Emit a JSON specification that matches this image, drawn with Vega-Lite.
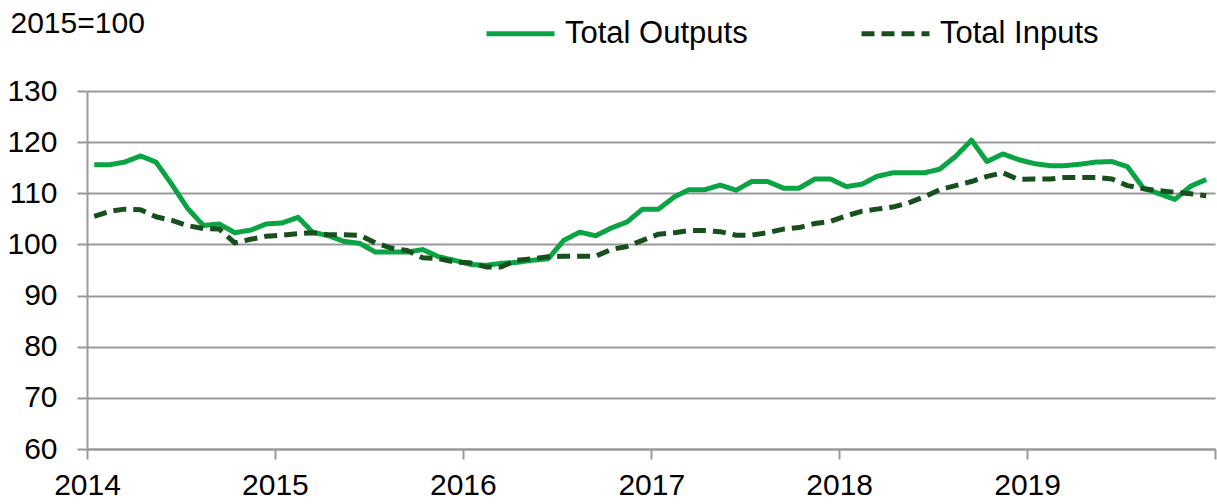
{
  "$schema": "https://vega.github.io/schema/vega-lite/v6.json",
  "autosize": {"type": "none"},
  "padding": {"left": 87, "top": 91, "right": 2, "bottom": 55},
  "width": 1128,
  "height": 358,
  "background": "white",
  "config": {
    "view": {"stroke": null},
    "font": "Liberation Sans"
  },
  "data": {
    "values": [
      {"month": "2014-01-15", "Total Outputs": 115.6, "Total Inputs": 105.5},
      {"month": "2014-02-15", "Total Outputs": 115.6, "Total Inputs": 106.5},
      {"month": "2014-03-15", "Total Outputs": 116.1, "Total Inputs": 106.9},
      {"month": "2014-04-15", "Total Outputs": 117.3, "Total Inputs": 106.8},
      {"month": "2014-05-15", "Total Outputs": 116.1, "Total Inputs": 105.4},
      {"month": "2014-06-15", "Total Outputs": 111.7, "Total Inputs": 104.7},
      {"month": "2014-07-15", "Total Outputs": 107.1, "Total Inputs": 103.7},
      {"month": "2014-08-15", "Total Outputs": 103.7, "Total Inputs": 103.1},
      {"month": "2014-09-15", "Total Outputs": 104.0, "Total Inputs": 103.0},
      {"month": "2014-10-15", "Total Outputs": 102.3, "Total Inputs": 100.3},
      {"month": "2014-11-15", "Total Outputs": 102.8, "Total Inputs": 101.0},
      {"month": "2014-12-15", "Total Outputs": 104.0, "Total Inputs": 101.6},
      {"month": "2015-01-15", "Total Outputs": 104.2, "Total Inputs": 101.8},
      {"month": "2015-02-15", "Total Outputs": 105.3, "Total Inputs": 102.1},
      {"month": "2015-03-15", "Total Outputs": 102.4, "Total Inputs": 102.3},
      {"month": "2015-04-15", "Total Outputs": 101.7, "Total Inputs": 101.9},
      {"month": "2015-05-15", "Total Outputs": 100.6, "Total Inputs": 101.9},
      {"month": "2015-06-15", "Total Outputs": 100.2, "Total Inputs": 101.8},
      {"month": "2015-07-15", "Total Outputs": 98.5, "Total Inputs": 100.3},
      {"month": "2015-08-15", "Total Outputs": 98.5, "Total Inputs": 99.3},
      {"month": "2015-09-15", "Total Outputs": 98.5, "Total Inputs": 98.8},
      {"month": "2015-10-15", "Total Outputs": 99.0, "Total Inputs": 97.4},
      {"month": "2015-11-15", "Total Outputs": 97.6, "Total Inputs": 97.2},
      {"month": "2015-12-15", "Total Outputs": 96.9, "Total Inputs": 96.6},
      {"month": "2016-01-15", "Total Outputs": 96.1, "Total Inputs": 96.4},
      {"month": "2016-02-15", "Total Outputs": 95.9, "Total Inputs": 95.6},
      {"month": "2016-03-15", "Total Outputs": 96.3, "Total Inputs": 95.6},
      {"month": "2016-04-15", "Total Outputs": 96.5, "Total Inputs": 96.9},
      {"month": "2016-05-15", "Total Outputs": 96.9, "Total Inputs": 97.2},
      {"month": "2016-06-15", "Total Outputs": 97.2, "Total Inputs": 97.6},
      {"month": "2016-07-15", "Total Outputs": 100.8, "Total Inputs": 97.7},
      {"month": "2016-08-15", "Total Outputs": 102.4, "Total Inputs": 97.7},
      {"month": "2016-09-15", "Total Outputs": 101.7, "Total Inputs": 97.7},
      {"month": "2016-10-15", "Total Outputs": 103.2, "Total Inputs": 99.0},
      {"month": "2016-11-15", "Total Outputs": 104.4, "Total Inputs": 99.6},
      {"month": "2016-12-15", "Total Outputs": 106.9, "Total Inputs": 100.8},
      {"month": "2017-01-15", "Total Outputs": 106.9, "Total Inputs": 102.0},
      {"month": "2017-02-15", "Total Outputs": 109.3, "Total Inputs": 102.3},
      {"month": "2017-03-15", "Total Outputs": 110.7, "Total Inputs": 102.7},
      {"month": "2017-04-15", "Total Outputs": 110.7, "Total Inputs": 102.7},
      {"month": "2017-05-15", "Total Outputs": 111.6, "Total Inputs": 102.5},
      {"month": "2017-06-15", "Total Outputs": 110.6, "Total Inputs": 101.8},
      {"month": "2017-07-15", "Total Outputs": 112.3, "Total Inputs": 101.8},
      {"month": "2017-08-15", "Total Outputs": 112.3, "Total Inputs": 102.3},
      {"month": "2017-09-15", "Total Outputs": 111.0, "Total Inputs": 103.0},
      {"month": "2017-10-15", "Total Outputs": 111.0, "Total Inputs": 103.3},
      {"month": "2017-11-15", "Total Outputs": 112.8, "Total Inputs": 104.1},
      {"month": "2017-12-15", "Total Outputs": 112.8, "Total Inputs": 104.5},
      {"month": "2018-01-15", "Total Outputs": 111.3, "Total Inputs": 105.6},
      {"month": "2018-02-15", "Total Outputs": 111.8, "Total Inputs": 106.5},
      {"month": "2018-03-15", "Total Outputs": 113.3, "Total Inputs": 106.9},
      {"month": "2018-04-15", "Total Outputs": 114.0, "Total Inputs": 107.3},
      {"month": "2018-05-15", "Total Outputs": 114.0, "Total Inputs": 108.1},
      {"month": "2018-06-15", "Total Outputs": 114.0, "Total Inputs": 109.3},
      {"month": "2018-07-15", "Total Outputs": 114.7, "Total Inputs": 110.7},
      {"month": "2018-08-15", "Total Outputs": 117.2, "Total Inputs": 111.5},
      {"month": "2018-09-15", "Total Outputs": 120.4, "Total Inputs": 112.3},
      {"month": "2018-10-15", "Total Outputs": 116.2, "Total Inputs": 113.3},
      {"month": "2018-11-15", "Total Outputs": 117.7, "Total Inputs": 114.0},
      {"month": "2018-12-15", "Total Outputs": 116.6, "Total Inputs": 112.7},
      {"month": "2019-01-15", "Total Outputs": 115.8, "Total Inputs": 112.8},
      {"month": "2019-02-15", "Total Outputs": 115.4, "Total Inputs": 112.8},
      {"month": "2019-03-15", "Total Outputs": 115.4, "Total Inputs": 113.1},
      {"month": "2019-04-15", "Total Outputs": 115.7, "Total Inputs": 113.1},
      {"month": "2019-05-15", "Total Outputs": 116.1, "Total Inputs": 113.1},
      {"month": "2019-06-15", "Total Outputs": 116.2, "Total Inputs": 112.8},
      {"month": "2019-07-15", "Total Outputs": 115.2, "Total Inputs": 111.5},
      {"month": "2019-08-15", "Total Outputs": 111.0, "Total Inputs": 110.9},
      {"month": "2019-09-15", "Total Outputs": 109.9, "Total Inputs": 110.5},
      {"month": "2019-10-15", "Total Outputs": 108.8, "Total Inputs": 110.2},
      {"month": "2019-11-15", "Total Outputs": 111.4, "Total Inputs": 109.9},
      {"month": "2019-12-15", "Total Outputs": 112.7, "Total Inputs": 109.5}
    ]
  },
  "transform": [
    {"fold": ["Total Outputs", "Total Inputs"], "as": ["series", "value"]}
  ],
  "mark": {"type": "line", "strokeWidth": 5, "strokeCap": "butt", "strokeJoin": "round", "clip": false},
  "encoding": {
    "x": {
      "field": "month",
      "type": "temporal",
      "scale": {
        "type": "utc",
        "domain": [
          {"year": 2014, "month": 1, "date": 1, "utc": true},
          {"year": 2020, "month": 1, "date": 1, "utc": true}
        ]
      },
      "axis": {
        "title": null,
        "format": "%Y",
        "tickCount": "year",
        "labelExpr": "datum.label == '2020' ? '' : datum.label",
        "grid": false,
        "domain": true,
        "domainColor": "#999999",
        "domainWidth": 2,
        "ticks": true,
        "tickColor": "#999999",
        "tickWidth": 2,
        "tickSize": 10,
        "labelFont": "Liberation Sans",
        "labelFontSize": 30,
        "labelColor": "#000000",
        "labelPadding": 11,
        "labelFlush": false,
        "labelOverlap": false
      }
    },
    "y": {
      "field": "value",
      "type": "quantitative",
      "scale": {"domain": [60, 130], "nice": false, "zero": false},
      "axis": {
        "values": [60, 70, 80, 90, 100, 110, 120, 130],
        "title": "2015=100",
        "titleAngle": 0,
        "titleAlign": "left",
        "titleBaseline": "alphabetic",
        "titleAnchor": null,
        "titleX": -77,
        "titleY": -59,
        "titleFont": "Liberation Sans",
        "titleFontSize": 30,
        "titleFontWeight": "normal",
        "titleColor": "#000000",
        "grid": true,
        "gridColor": "#999999",
        "gridWidth": 2,
        "domain": true,
        "domainColor": "#999999",
        "domainWidth": 2,
        "ticks": true,
        "tickColor": "#999999",
        "tickWidth": 2,
        "tickSize": 10,
        "labelFont": "Liberation Sans",
        "labelFontSize": 30,
        "labelColor": "#000000",
        "labelPadding": 20
      }
    },
    "color": {
      "field": "series",
      "type": "nominal",
      "scale": {"domain": ["Total Outputs", "Total Inputs"], "range": ["#0aa444", "#17501c"]},
      "legend": {
        "title": null,
        "orient": "none",
        "direction": "horizontal",
        "legendX": 397,
        "legendY": -94,
        "symbolType": "stroke",
        "symbolSize": 4624,
        "symbolStrokeWidth": 5,
        "labelFont": "Liberation Sans",
        "labelFontSize": 31,
        "labelColor": "#000000",
        "labelOffset": 8,
        "labelLimit": 400,
        "columnPadding": 103
      }
    },
    "strokeDash": {
      "field": "series",
      "type": "nominal",
      "scale": {"domain": ["Total Outputs", "Total Inputs"], "range": [[1, 0], [13, 7]]}
    }
  }
}
